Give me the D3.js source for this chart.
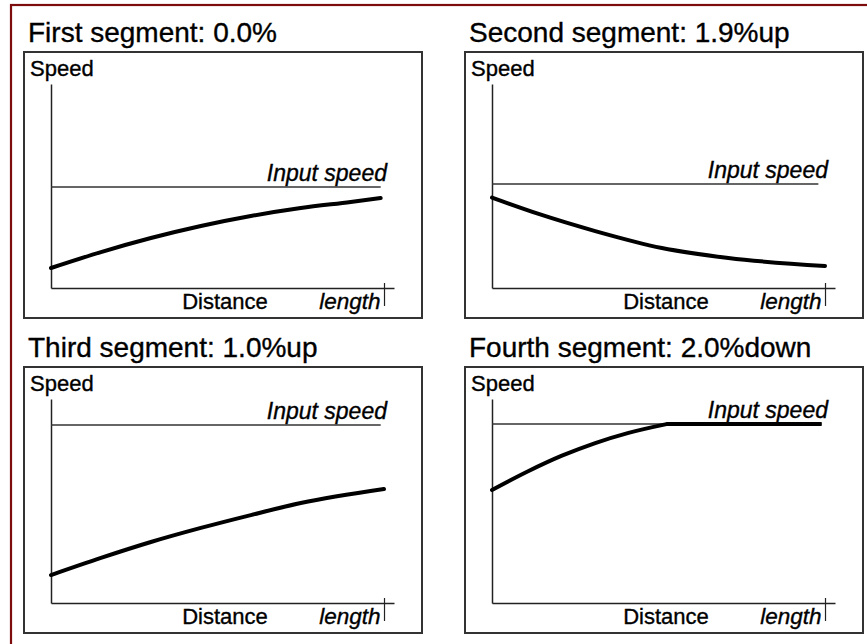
<!DOCTYPE html>
<html>
<head>
<meta charset="utf-8">
<script src="https://cdn.jsdelivr.net/npm/d3@7/dist/d3.min.js"></script>
<style>
  html, body { margin: 0; padding: 0; background: #fff; }
  svg { display: block; }
  text { font-family: "Liberation Sans", Arial, Helvetica, sans-serif; fill: #000; stroke: #000; stroke-width: 0.35px; }
</style>
</head>
<body>
<svg id="chart" width="867" height="644"></svg>
<script>
// ---- data ----
const titles = ["First segment: 0.0%", "Second segment: 1.9%up", "Third segment: 1.0%up", "Fourth segment: 2.0%down"];
const inputSpeed = [49.5, 51, 87.3, 87.7];
const inputEnd = [99, 98, 99, 99];
const seg1Distance = [0, 15, 30, 45, 60, 75, 90, 99];
const seg1Speed    = [9.8, 17.6, 24.5, 30.4, 35.3, 39.2, 42.2, 44.1];
const seg2Distance = [0, 14, 31, 51, 71, 100];
const seg2Speed    = [44.3, 36.3, 27.9, 19.6, 14.7, 10.8];
const seg3Distance = [0, 15, 30, 45, 60, 75, 100];
const seg3Speed    = [13.7, 22.1, 29.9, 36.8, 43.1, 49.0, 55.9];
const seg4Distance = [0, 11, 21, 31, 41, 52.4, 99];
const seg4Speed    = [55.4, 64.7, 72.2, 78.4, 83.4, 87.7, 87.7];
const distances = [seg1Distance, seg2Distance, seg3Distance, seg4Distance];
const speeds = [seg1Speed, seg2Speed, seg3Speed, seg4Speed];
const axisLabels = { y: "Speed", x: "Distance", end: "length", input: "Input speed" };

// ---- layout ----
const svg = d3.select("#chart");
svg.append("rect").attr("x", 11).attr("y", 5).attr("width", 880).attr("height", 660)
  .attr("fill", "none").attr("stroke", "#7d0c0c").attr("stroke-width", 2.2);

const boxW = 398, boxH = 266;
const boxPos = [[24, 52], [465, 52], [24, 367], [465, 367]];

const x = d3.scaleLinear().domain([0, 103]).range([27, 370]);
const y = d3.scaleLinear().domain([0, 100]).range([236, 32]);
const smooth = d3.line().x((d) => x(d[0])).y((d) => y(d[1])).curve(d3.curveMonotoneX);
const straight = d3.line().x((d) => x(d[0])).y((d) => y(d[1]));

titles.forEach((t, i) => {
  const [bx, by] = boxPos[i];
  svg.append("text").attr("x", bx + 4).attr("y", by - 10)
    .attr("font-size", 28).text(t);

  const g = svg.append("g").attr("transform", `translate(${bx},${by})`);
  g.append("rect").attr("x", 0).attr("y", 0).attr("width", boxW).attr("height", boxH)
    .attr("fill", "none").attr("stroke", "#333").attr("stroke-width", 2);

  // y axis
  const ya = g.append("g").attr("transform", `translate(${x(0)},0)`)
    .call(d3.axisLeft(y).tickValues([]).tickSizeOuter(0));
  ya.select(".domain").attr("stroke", "#222").attr("stroke-width", 1.5);

  // x axis with end tick
  const xa = g.append("g").attr("transform", `translate(0,${y(0)})`)
    .call(d3.axisBottom(x).tickValues([100]).tickFormat(() => axisLabels.end)
      .tickSizeInner(18).tickSizeOuter(0));
  xa.select(".domain").attr("stroke", "#222").attr("stroke-width", 1.5);
  xa.selectAll(".tick line").attr("y1", -5).attr("y2", 18).attr("stroke", "#222").attr("stroke-width", 1.2);
  xa.selectAll(".tick text").attr("x", -4).attr("y", 21).attr("dy", null)
    .attr("text-anchor", "end").attr("font-size", 22.5).attr("font-style", "italic")
    .attr("font-family", '"Liberation Sans", Arial, sans-serif').attr("fill", "#000");

  // axis labels
  g.append("text").attr("x", 6).attr("y", 24).attr("font-size", 22).text(axisLabels.y);
  g.append("text").attr("x", 201).attr("y", 257).attr("font-size", 22)
    .attr("text-anchor", "middle").text(axisLabels.x);

  // input speed line
  g.append("line").attr("x1", x(0)).attr("x2", x(inputEnd[i]))
    .attr("y1", y(inputSpeed[i])).attr("y2", y(inputSpeed[i]))
    .attr("stroke", "#333").attr("stroke-width", 1.5);
  g.append("text").attr("x", x(100) + 3).attr("y", y(inputSpeed[i]) - 6)
    .attr("font-size", 23).attr("font-style", "italic").attr("text-anchor", "end")
    .text(axisLabels.input);

  // speed curve: smooth while changing, straight once it reaches the input speed
  const pts = distances[i].map((d, k) => [d, speeds[i][k]]);
  let cut = pts.findIndex((p) => Math.abs(p[1] - inputSpeed[i]) < 1e-9);
  if (cut < 0) cut = pts.length - 1;
  const curvePts = pts.slice(0, cut + 1);
  const flatPts = pts.slice(cut);
  g.append("path").attr("d", smooth(curvePts)).attr("fill", "none")
    .attr("stroke", "#000").attr("stroke-width", 4).attr("stroke-linecap", "round");
  if (flatPts.length > 1) {
    g.append("path").attr("d", straight(flatPts)).attr("fill", "none")
      .attr("stroke", "#000").attr("stroke-width", 4).attr("stroke-linecap", "butt");
  }
});
</script>
</body>
</html>
